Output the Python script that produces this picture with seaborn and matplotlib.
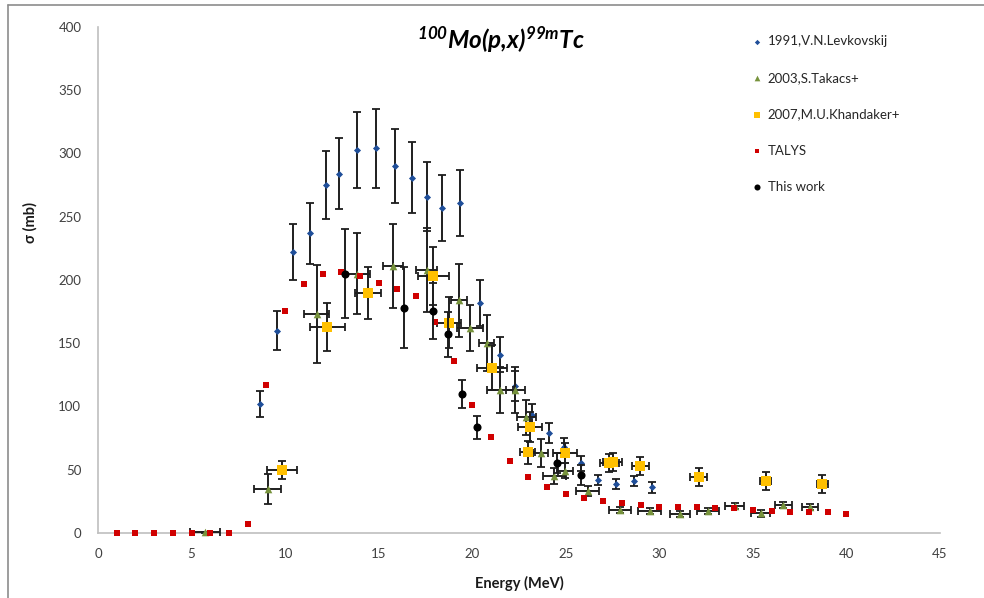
import matplotlib
matplotlib.use("Agg")
import matplotlib.pyplot as plt
import seaborn as sns
import numpy as np
import pandas as pd
from matplotlib.lines import Line2D

# ---------------- data ----------------
lev_x = [8.64, 9.57, 10.43, 11.32, 12.16, 12.87, 13.86, 14.87, 15.85, 16.78, 17.57,
         18.37, 19.37, 20.39, 21.48, 22.30, 23.19, 24.09, 24.93, 25.82, 26.71, 27.69,
         28.62, 29.60]
lev_y = [102, 160, 222, 237, 275, 284, 303, 304, 290, 281, 266,
         257, 261, 182, 141, 116, 93, 79, 68, 55, 42, 38.5,
         41, 36]
lev_yerr = [10, 15.5, 22, 24, 27, 28, 30, 31, 29, 28, 27,
            26, 26, 18, 14, 12, 9, 8, 7, 6, 4, 4,
            4, 4]

tak_x = [5.73, 9.07, 11.68, 13.86, 15.76, 17.57, 19.28, 19.87, 20.78, 21.48, 22.30,
         22.89, 23.67, 24.39, 24.98, 26.17, 27.90, 29.48, 31.10, 32.60, 34.03, 35.42,
         36.62, 38.05]
tak_y = [0.5, 35, 173, 205, 211, 208, 184, 162, 150, 113, 113,
         91.5, 63.5, 45, 49.3, 33.4, 18.2, 17.4, 14.8, 17.4, 21.3, 15.5,
         21.9, 20.8]
tak_yerr = [0.5, 11.7, 39, 32, 33, 33, 29, 18, 22, 18, 18,
            14, 11, 6, 6, 4, 2.5, 2.5, 2.5, 2.5, 2.5, 2.5,
            2.5, 2.5]
tak_xerr = [0.8, 0.73, 0.65, 0.67, 0.55, 0.55, 0.43, 0.7, 0.4, 0.7, 0.5,
            0.5, 0.4, 0.6, 0.4, 0.6, 0.6, 0.6, 0.55, 0.6, 0.5, 0.5,
            0.45, 0.45]

kha_x = [9.84, 12.25, 14.44, 17.92, 18.76, 21.06, 22.96, 23.09, 24.96, 27.33, 27.51,
         28.98, 32.10, 35.69, 38.70]
kha_y = [49.8, 162.6, 189.5, 203.2, 166.3, 130.8, 63.8, 83.6, 63.0, 55.6, 56.1,
         53.2, 44.5, 41.3, 39.0]
kha_yerr = [7, 19, 20.5, 23, 20, 18, 9, 12, 8, 7, 7,
            7, 7, 7, 7]
kha_xerr = [0.82, 0.94, 0.71, 0.83, 0.64, 0.8, 0.4, 0.65, 0.63, 0.5, 0.5,
            0.45, 0.45, 0.3, 0.3]

talys_x = list(range(1, 41))
talys_y = [0, 0, 0, 0, 0, 0, 0, 7, 117, 175.5, 197, 205, 206, 203, 198, 193, 187, 167,
           136, 101, 76, 57, 44.5, 36, 31, 28, 25.3, 24, 21.8, 20.7, 20.7, 20.7, 19.5,
           19.5, 18.4, 17.4, 16.8, 16.8, 16.4, 15.3]

tw_x = [13.18, 16.35, 17.92, 18.73, 19.48, 20.25, 24.54, 25.82]
tw_y = [205, 178, 175.5, 157, 110, 83.6, 55.6, 45.8]
tw_yerr = [35, 32, 22, 18, 11, 9, 8, 8]

series_labels = ["1991,V.N.Levkovskij", "2003,S.Takacs+", "2007,M.U.Khandaker+",
                 "TALYS", "This work"]
x_ticks = list(range(0, 50, 5))
y_ticks = list(range(0, 450, 50))

# ---------------- style ----------------
sns.set_theme(style="white")
plt.rcParams["font.family"] = ["Lato", "DejaVu Sans"]
plt.rcParams["mathtext.fontset"] = "custom"
plt.rcParams["mathtext.rm"] = "Lato:italic:bold"
plt.rcParams["mathtext.it"] = "Lato:italic:bold"
plt.rcParams["mathtext.bf"] = "Lato:italic:bold"

c_lev = "#1F4E99"
c_tak = "#77933C"
c_kha = "#FFC000"
c_tal = "#D00000"
c_tw = "#000000"
c_err = "#1e1e1e"
c_axis = "#BFBFBF"
c_text = "#404040"

fig = plt.figure(figsize=(9.84, 5.98), dpi=100)
ax = fig.add_axes([98 / 984, 1 - 533 / 598, 842 / 984, 506 / 598])

ekw = dict(fmt="none", ecolor=c_err, elinewidth=1.4, capsize=2.6, capthick=1.3,
           clip_on=False)

# Levkovskij
ax.errorbar(lev_x, lev_y, yerr=lev_yerr, zorder=2, **ekw)
sns.scatterplot(x=lev_x, y=lev_y, ax=ax, marker="D", s=13, color=c_lev,
                edgecolor=c_lev, linewidth=0, label=series_labels[0], zorder=3,
                clip_on=False)
# Takacs
ax.errorbar(tak_x, tak_y, yerr=tak_yerr, xerr=tak_xerr, zorder=4, **ekw)
sns.scatterplot(x=tak_x, y=tak_y, ax=ax, marker="^", s=30, color=c_tak,
                edgecolor=c_tak, linewidth=0, label=series_labels[1], zorder=5,
                clip_on=False)
# Khandaker
ax.errorbar(kha_x, kha_y, yerr=kha_yerr, xerr=kha_xerr, zorder=6, **ekw)
sns.scatterplot(x=kha_x, y=kha_y, ax=ax, marker="s", s=42, color=c_kha,
                edgecolor=c_kha, linewidth=0, label=series_labels[2], zorder=7,
                clip_on=False)
# TALYS
sns.scatterplot(x=talys_x, y=talys_y, ax=ax, marker="s", s=18, color=c_tal,
                edgecolor=c_tal, linewidth=0, label=series_labels[3], zorder=8,
                clip_on=False)
# This work
ax.errorbar(tw_x, tw_y, yerr=tw_yerr, zorder=9, **ekw)
sns.scatterplot(x=tw_x, y=tw_y, ax=ax, marker="o", s=34, color=c_tw,
                edgecolor=c_tw, linewidth=0, label=series_labels[4], zorder=10,
                clip_on=False)

ax.set_xlim(0, 45)
ax.set_ylim(0, 400)
ax.set_xticks(x_ticks)
ax.set_yticks(y_ticks)
ax.tick_params(axis="both", which="major", direction="out", length=4, width=1,
               color=c_axis, labelsize=9.5, labelcolor=c_text, pad=6)
ax.tick_params(axis="x", pad=7)
ax.tick_params(axis="y", pad=8)
for side in ["top", "right"]:
    ax.spines[side].set_visible(False)
for side in ["left", "bottom"]:
    ax.spines[side].set_color(c_axis)
    ax.spines[side].set_linewidth(1.2)
ax.grid(False)

ax.set_xlabel("Energy (MeV)", fontsize=10.5, fontweight="bold", color="#1a1a1a")
ax.set_ylabel("σ (mb)", fontsize=10.5, fontweight="bold", color="#1a1a1a")
ax.xaxis.set_label_coords(0.5, -0.085)
ax.yaxis.set_label_coords(-0.072, 0.613)

fig.text(501 / 984, 1 - 40 / 598, r"$\mathrm{^{100}Mo(p{,}x)^{99m}Tc}$",
         ha="center", va="center", fontsize=17.5, color="#000000")

handles, labels = ax.get_legend_handles_labels()
leg = ax.legend(handles, labels, loc="upper left",
                bbox_to_anchor=(748 / 984, 1 - 30 / 598),
                bbox_transform=fig.transFigure, frameon=False, fontsize=9.5,
                labelspacing=1.85, handlelength=0.6, handletextpad=0.5,
                markerscale=0.75, borderaxespad=0)
for t in leg.get_texts():
    t.set_color("#262626")

# outer chart frame (partially cropped in the reference)
fig.add_artist(Line2D([8 / 984, 8 / 984], [0, 1 - 5 / 598], transform=fig.transFigure,
                      color="#8c8c8c", linewidth=1.2))
fig.add_artist(Line2D([8 / 984, 1], [1 - 5 / 598, 1 - 5 / 598], transform=fig.transFigure,
                      color="#8c8c8c", linewidth=1.2))

fig.savefig("out.png", dpi=100, facecolor="white")
